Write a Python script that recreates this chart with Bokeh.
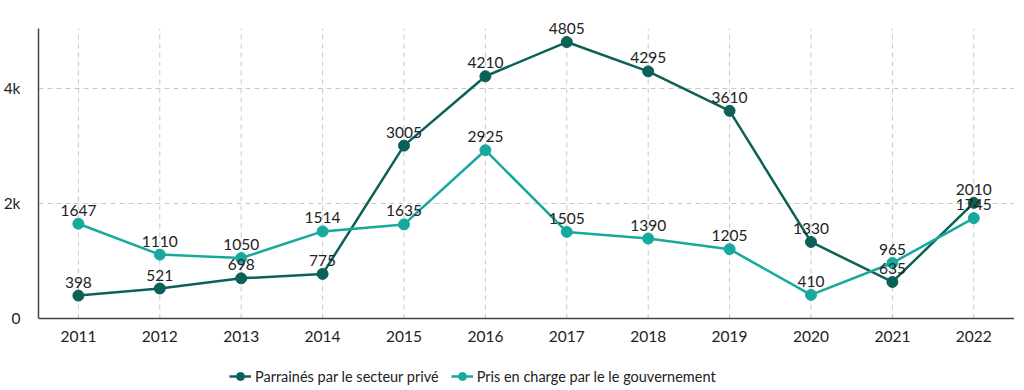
from bokeh.plotting import figure
from bokeh.models import ColumnDataSource, FixedTicker, Legend, LegendItem, LabelSet
from bokeh.core.properties import value
from bokeh.embed import file_html
from bokeh.resources import INLINE

years = [2011, 2012, 2013, 2014, 2015, 2016, 2017, 2018, 2019, 2020, 2021, 2022]
prive = [398, 521, 698, 775, 3005, 4210, 4805, 4295, 3610, 1330, 635, 2010]
gouv = [1647, 1110, 1050, 1514, 1635, 2925, 1505, 1390, 1205, 410, 965, 1745]
series_names = ["Parrainés par le secteur privé", "Pris en charge par le le gouvernement"]
y_ticks = [0, 2000, 4000]
y_tick_labels = ["0", "2k", "4k"]

DARK = "#0b6157"
TEAL = "#17aa9c"
FONT = "Lato"
Y_TOP = 5040          # top of the plotted area (axis/grid extent)
Y_VIEW = 5388         # headroom so the top labels are not clipped
Y_BOTTOM = -1217      # room under the x axis for tick labels and legend

p = figure(frame_width=976, frame_height=380, x_range=(2010.51, 2022.5),
           y_range=(Y_BOTTOM, Y_VIEW),
           output_backend="svg", toolbar_location=None,
           min_border_left=35, min_border_right=0, min_border_top=8, min_border_bottom=0)
p.outline_line_color = None

# vertical dashed grid limited to the plotted area
p.segment(x0=years, y0=[0] * len(years), x1=years, y1=[Y_TOP] * len(years),
          line_color="#c8c8c8", line_dash="5 4", line_width=1)

src1 = ColumnDataSource(dict(x=years, y=prive, t=[str(v) for v in prive]))
src2 = ColumnDataSource(dict(x=years, y=gouv, t=[str(v) for v in gouv]))

l1 = p.line("x", "y", source=src1, line_color=DARK, line_width=2.5)
c1 = p.scatter("x", "y", source=src1, size=11, fill_color=DARK, line_color=DARK)
l2 = p.line("x", "y", source=src2, line_color=TEAL, line_width=2.5)
c2 = p.scatter("x", "y", source=src2, size=11, fill_color=TEAL, line_color=TEAL)

for src in (src1, src2):
    lab = LabelSet(x="x", y="y", text="t", source=src, text_align="center",
                   text_baseline="bottom", y_offset=8, text_font=value(FONT),
                   text_font_size=value("15.5px"), text_color="#222222")
    p.add_layout(lab)

p.xaxis.ticker = FixedTicker(ticks=years)
p.xaxis.fixed_location = 0
p.yaxis.ticker = FixedTicker(ticks=y_ticks)
p.yaxis.major_label_overrides = {t: l for t, l in zip(y_ticks, y_tick_labels)}
p.yaxis.bounds = (0, Y_TOP)
for ax in (p.xaxis, p.yaxis):
    ax.major_tick_line_color = None
    ax.minor_tick_line_color = None
    ax.axis_line_color = "#444444"
    ax.axis_line_width = 1.5
    ax.major_label_text_font = FONT
    ax.major_label_text_font_size = "15.5px"
    ax.major_label_text_color = "#222222"
p.xaxis.major_label_standoff = 7
p.yaxis.major_label_standoff = 12

p.xgrid.grid_line_color = None
p.ygrid.grid_line_color = "#c8c8c8"
p.ygrid.grid_line_dash = "5 4"

legend = Legend(items=[LegendItem(label=series_names[0], renderers=[l1, c1]),
                       LegendItem(label=series_names[1], renderers=[l2, c2])],
                orientation="horizontal", location=(191, 2),
                label_text_font=FONT, label_text_font_size="14.5px",
                label_text_color="#222222", border_line_color=None,
                background_fill_alpha=0,
                spacing=12, glyph_width=22, label_standoff=4, margin=0, padding=0)
p.add_layout(legend, "center")

open("out.html", "w").write(file_html(p, INLINE))
